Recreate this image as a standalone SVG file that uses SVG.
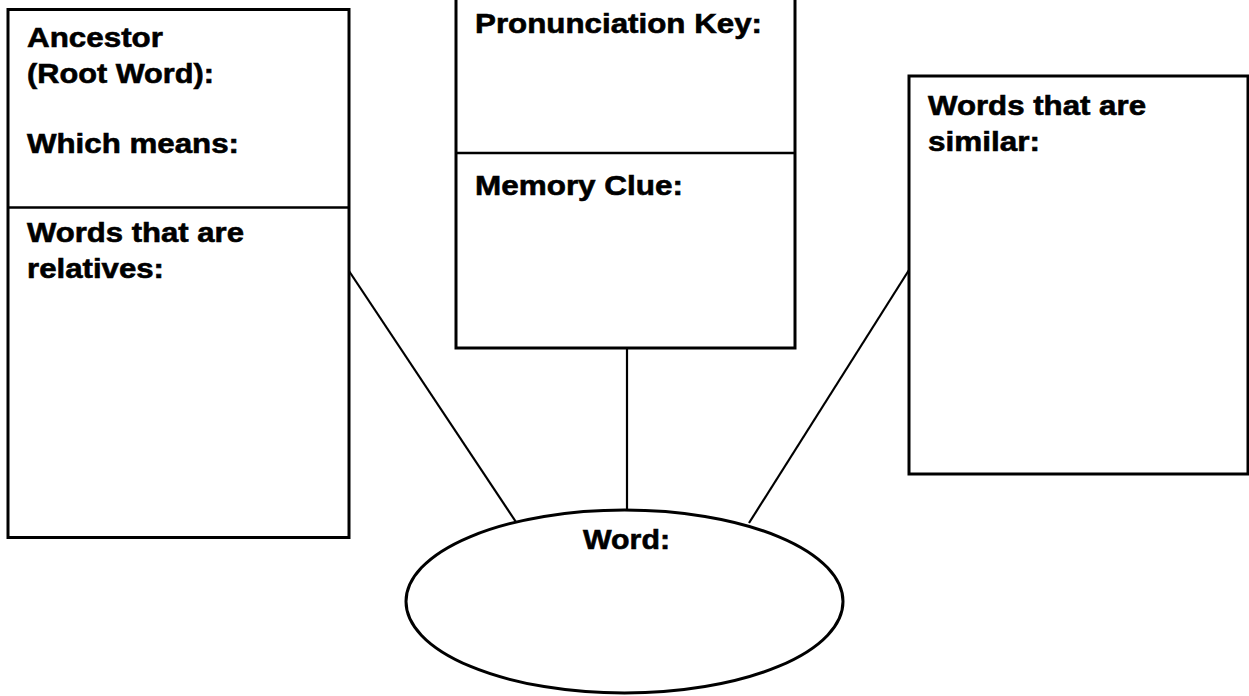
<svg xmlns="http://www.w3.org/2000/svg" width="1249" height="696" viewBox="0 0 1249 696">
  <style>
    .box { fill: #ffffff; stroke: #000000; stroke-width: 3; }
    .div { stroke: #000000; stroke-width: 2.5; fill: none; }
    .link { stroke: #000000; stroke-width: 2.2; fill: none; }
    .lbl { font-family: "Liberation Sans", Arial, Helvetica, sans-serif; font-weight: bold; font-size: 28.5px; fill: #000000; stroke: #000000; stroke-width: 0.6; }
  </style>
  <rect x="0" y="0" width="1249" height="696" fill="#ffffff"/>

  <g id="connectors">
    <line class="link" x1="349" y1="271" x2="516" y2="522"/>
    <line class="link" x1="627" y1="348" x2="627" y2="510"/>
    <line class="link" x1="909" y1="270" x2="749" y2="523"/>
  </g>

  <g id="ancestor-box">
    <rect class="box" x="8" y="9.5" width="341" height="528"/>
    <line class="div" x1="8" y1="207.5" x2="349" y2="207.5"/>
    <text class="lbl" x="27" y="47" textLength="136" lengthAdjust="spacingAndGlyphs">Ancestor</text>
    <text class="lbl" x="27" y="83" textLength="187" lengthAdjust="spacingAndGlyphs">(Root Word):</text>
    <text class="lbl" x="27" y="153" textLength="212" lengthAdjust="spacingAndGlyphs">Which means:</text>
    <text class="lbl" x="27" y="242" textLength="217" lengthAdjust="spacingAndGlyphs">Words that are</text>
    <text class="lbl" x="27" y="278" textLength="137" lengthAdjust="spacingAndGlyphs">relatives:</text>
  </g>

  <g id="pronunciation-box">
    <rect class="box" x="456" y="-5" width="339" height="353"/>
    <line class="div" x1="456" y1="153" x2="795" y2="153"/>
    <text class="lbl" x="475" y="33" textLength="287" lengthAdjust="spacingAndGlyphs">Pronunciation Key:</text>
    <text class="lbl" x="475" y="195" textLength="208" lengthAdjust="spacingAndGlyphs">Memory Clue:</text>
  </g>

  <g id="similar-box">
    <rect class="box" x="909" y="76" width="339" height="398"/>
    <text class="lbl" x="928" y="115" textLength="218" lengthAdjust="spacingAndGlyphs">Words that are</text>
    <text class="lbl" x="928" y="151" textLength="112" lengthAdjust="spacingAndGlyphs">similar:</text>
  </g>

  <g id="word-node">
    <ellipse class="box" cx="624.5" cy="601.5" rx="218.5" ry="91.5"/>
    <text class="lbl" x="583" y="549" textLength="87" lengthAdjust="spacingAndGlyphs">Word:</text>
  </g>
</svg>
